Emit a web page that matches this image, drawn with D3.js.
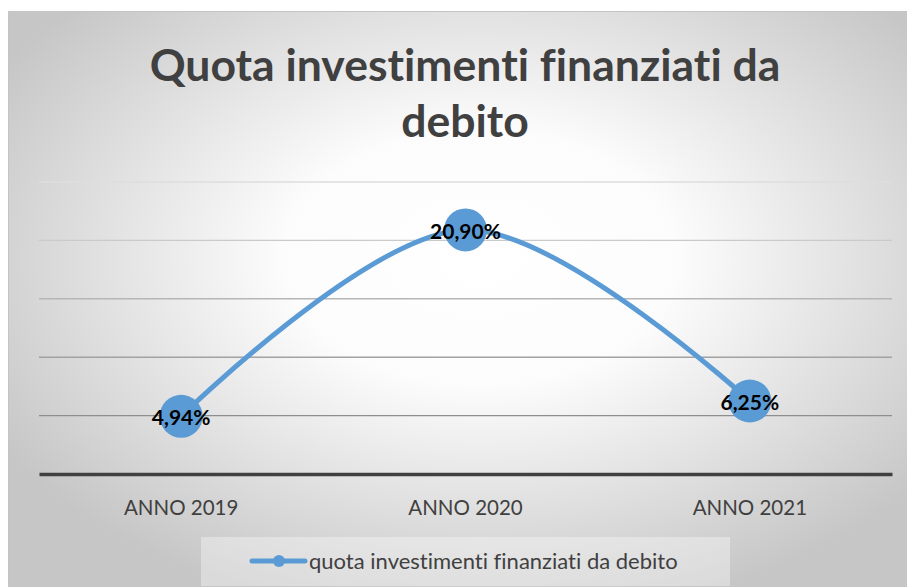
<!DOCTYPE html>
<html>
<head>
<meta charset="utf-8">
<script src="https://cdn.jsdelivr.net/npm/d3@7"></script>
<style>
  body { margin: 0; background: #fff; }
  svg { display: block; font-family: "Lato", "Liberation Sans", sans-serif; font-variant-ligatures: none; }
</style>
</head>
<body>
<div id="chart"></div>
<script>
const categories = ["ANNO 2019", "ANNO 2020", "ANNO 2021"]
const values = [4.94, 20.90, 6.25]
const yTicks = [0, 5, 10, 15, 20, 25]
const gridColors = ["#8e8e8e", "#a2a2a2", "#b6b6b6", "#cacaca", "#dedede"]
const seriesName = "quota investimenti finanziati da debito"

const svgWidth = 907
const svgHeight = 587
var margin = { left: 39, right: 15, top: 182, bottom: 113 }
var width = svgWidth - margin.left - margin.right,
    height = svgHeight - margin.top - margin.bottom

const svg = d3.select("#chart").append("svg")
  .attr("width", svgWidth)
  .attr("height", svgHeight)

// background gradient
const defs = svg.append("defs")
const grad = defs.append("radialGradient")
  .attr("id", "bg")
  .attr("cx", "0.52").attr("cy", "0.42").attr("r", "0.62")
grad.append("stop").attr("offset", "0").attr("stop-color", "#ffffff")
grad.append("stop").attr("offset", "0.35").attr("stop-color", "#fcfcfc")
grad.append("stop").attr("offset", "1").attr("stop-color", "#c6c6c6")

svg.append("rect")
  .attr("x", 8.5).attr("y", 11.5)
  .attr("width", svgWidth).attr("height", svgHeight)
  .attr("fill", "url(#bg)")
  .attr("stroke", "#c4c4c4")

// title
const title = svg.append("text")
  .attr("text-anchor", "middle")
  .attr("font-size", "44.5px")
  .attr("font-weight", "bold")
  .attr("fill", "#404040")
title.append("tspan").attr("x", 465).attr("y", 81).text("Quota investimenti finanziati da")
title.append("tspan").attr("x", 465).attr("y", 137).text("debito")

const g = svg.append("g")
  .attr("transform", "translate(" + margin.left + ", " + margin.top + ")")

var x = d3.scaleBand()
  .domain(categories)
  .range([0, width])

var y = d3.scaleLinear()
  .domain([0, 25])
  .range([height, 0])

// gridlines
g.selectAll(".grid")
  .data(yTicks.slice(1))
  .enter()
  .append("line")
  .attr("class", "grid")
  .attr("x1", 0).attr("x2", width)
  .attr("y1", d => y(d)).attr("y2", d => y(d))
  .attr("stroke", (d, i) => gridColors[i])
  .attr("stroke-width", 1.4)

// x axis
var xAxisCall = d3.axisBottom(x).tickSize(0).tickPadding(26)
const xAxis = g.append("g")
  .attr("transform", "translate(0, " + height + ")")
  .call(xAxisCall)
xAxis.select(".domain").attr("stroke", "#404040").attr("stroke-width", 3.5)
xAxis.selectAll("text")
  .attr("font-size", "20.5px")
  .attr("fill", "#404040")
  .attr("font-family", "Lato, sans-serif")

const cx = d => x(d) + x.bandwidth() / 2
const pts = categories.map((c, i) => [cx(c), y(values[i])])

// line
const line = d3.line().curve(d3.curveCatmullRom.alpha(0.5))
g.append("path")
  .attr("d", line(pts))
  .attr("fill", "none")
  .attr("stroke", "#5b9bd5")
  .attr("stroke-width", 5)
  .attr("stroke-linecap", "round")

// markers
g.selectAll(".dot")
  .data(values)
  .enter()
  .append("circle")
  .attr("cx", (d, i) => cx(categories[i]))
  .attr("cy", d => y(d))
  .attr("r", 21.5)
  .attr("fill", "#5b9bd5")

// data labels
const fmt = d => d.toFixed(2).replace(".", ",") + "%"
g.selectAll(".lbl")
  .data(values)
  .enter()
  .append("text")
  .attr("x", (d, i) => cx(categories[i]))
  .attr("y", d => y(d) + 9)
  .attr("text-anchor", "middle")
  .attr("font-size", "21px")
  .attr("font-weight", "bold")
  .attr("fill", "#000")
  .text(fmt)

// legend
const lg = svg.append("g")
lg.append("rect")
  .attr("x", 201).attr("y", 537)
  .attr("width", 529).attr("height", 49)
  .attr("fill", "#ffffff").attr("fill-opacity", 0.35)
lg.append("line")
  .attr("x1", 252).attr("x2", 305)
  .attr("y1", 561).attr("y2", 561)
  .attr("stroke", "#5b9bd5").attr("stroke-width", 5)
  .attr("stroke-linecap", "round")
lg.append("circle")
  .attr("cx", 279).attr("cy", 561).attr("r", 6)
  .attr("fill", "#5b9bd5")
lg.append("text")
  .attr("x", 309).attr("y", 569)
  .attr("font-size", "22px")
  .attr("fill", "#404040")
  .text(seriesName)
</script>
</body>
</html>
